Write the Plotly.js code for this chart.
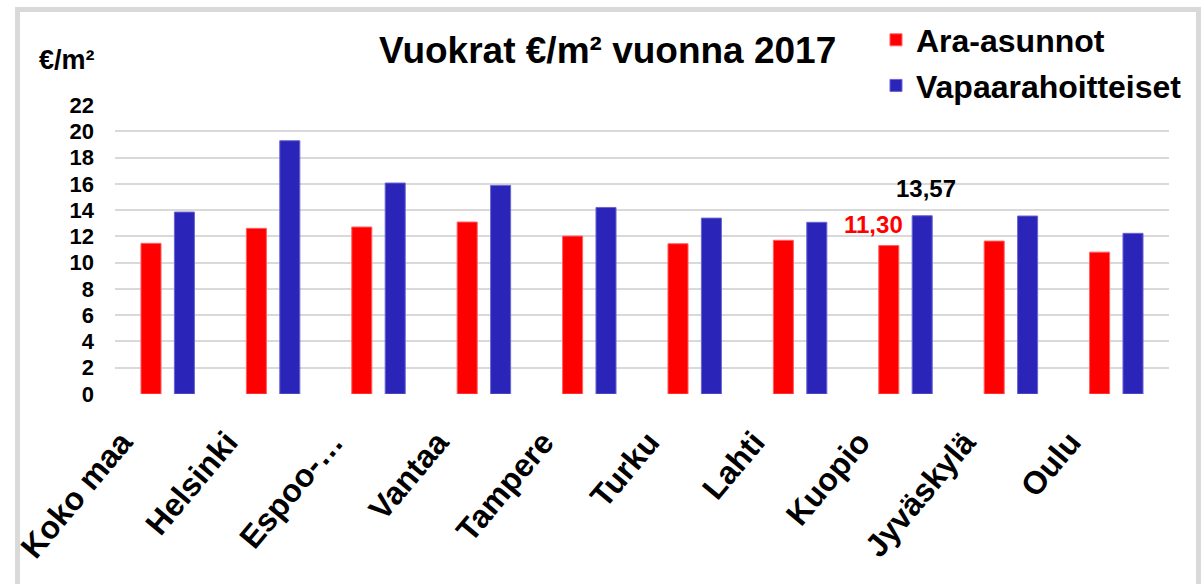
<!DOCTYPE html>
<html>
<head>
<meta charset="utf-8">
<script src="https://cdn.plot.ly/plotly-3.0.1.min.js"></script>
<style>html,body{margin:0;padding:0;background:#fff;}#chart{width:1201px;height:584px;}</style>
</head>
<body>
<div id="chart"></div>
<script>
const categories = ["Koko maa", "Helsinki", "Espoo-…", "Vantaa", "Tampere", "Turku", "Lahti", "Kuopio", "Jyväskylä", "Oulu"];
const araValues = [11.47, 12.61, 12.71, 13.09, 12.02, 11.44, 11.70, 11.30, 11.64, 10.80];
const vapaaValues = [13.85, 19.28, 16.06, 15.88, 14.20, 13.39, 13.07, 13.57, 13.55, 12.23];
const seriesNames = ["Ara-asunnot", "Vapaarahoitteiset"];
const yTicks = [0, 2, 4, 6, 8, 10, 12, 14, 16, 18, 20, 22];
const labelledCategory = "Kuopio";

const FONT = "Liberation Sans, Arial, sans-serif";
const fmt = v => v.toFixed(2).replace(".", ",");
const li = categories.indexOf(labelledCategory);

const traces = [
  {type: "bar", name: seriesNames[0], x: categories, y: araValues, legendgroup: "a",
   marker: {color: "#FF0000", line: {color: "#FF6060", width: 1}}, hoverinfo: "x+y"},
  {type: "bar", name: seriesNames[1], x: categories, y: vapaaValues, legendgroup: "b",
   marker: {color: "#2A24B9", line: {color: "#6A66D0", width: 1}}, hoverinfo: "x+y"}
];

const layout = {
  width: 1201, height: 584,
  margin: {l: 115, r: 32, t: 105, b: 190},
  paper_bgcolor: "#fff", plot_bgcolor: "#fff",
  font: {family: FONT, color: "#000", weight: "bold"},
  barmode: "group", bargap: 0.366, bargroupgap: 0.4,
  showlegend: true,
  title: {text: "Vuokrat €/m² vuonna 2017", font: {family: FONT, size: 37, weight: "bold", color: "#000"},
          x: 0.506, xref: "container", xanchor: "center", y: 0.915, yref: "container", yanchor: "middle"},
  legend: {x: 0.722, xanchor: "left", y: 1.32, yanchor: "top", bgcolor: "#fff",
           font: {family: FONT, size: 32, weight: "bold", color: "#000"},
           traceorder: "grouped", tracegroupgap: 1},
  xaxis: {type: "category", tickangle: -50, tickfont: {family: FONT, size: 32, weight: "bold", color: "#000"},
          showgrid: false, zeroline: false, showline: false, ticks: "", fixedrange: true,
          ticklabelstandoff: 22, ticklabelshift: -46},
  yaxis: {range: [0, 22], tickvals: yTicks, ticktext: yTicks.map(String),
          tickfont: {family: FONT, size: 22, weight: "bold", color: "#000"},
          showgrid: true, gridcolor: "#D9D9D9", gridwidth: 2, zeroline: false, showline: false,
          ticks: "", ticklabelstandoff: 20, fixedrange: true},
  annotations: [
    {text: "€/m²", xref: "paper", yref: "paper", x: (67 - 115) / 1054, y: (394 - 60) / 289,
     xanchor: "center", yanchor: "middle", showarrow: false,
     font: {family: FONT, size: 27, weight: "bold", color: "#000"}},
    {text: fmt(araValues[li]), x: categories[li], y: araValues[li], xref: "x", yref: "y",
     xanchor: "center", yanchor: "middle", xshift: -32, yshift: 21, showarrow: false,
     font: {family: FONT, size: 24, weight: "bold", color: "#FF0000"}},
    {text: fmt(vapaaValues[li]), x: categories[li], y: vapaaValues[li], xref: "x", yref: "y",
     xanchor: "center", yanchor: "middle", xshift: 20, yshift: 27, showarrow: false,
     font: {family: FONT, size: 24, weight: "bold", color: "#000"}}
  ],
  shapes: [
    {type: "rect", xref: "paper", yref: "paper", layer: "below",
     x0: (17.5 - 115) / 1054, x1: (1198.5 - 115) / 1054, y0: -1, y1: (394 - 9.5) / 289,
     line: {color: "#D9D9D9", width: 5}, fillcolor: "rgba(0,0,0,0)"}
  ]
};

Plotly.newPlot("chart", traces, layout, {displayModeBar: false, staticPlot: true});
</script>
</body>
</html>
